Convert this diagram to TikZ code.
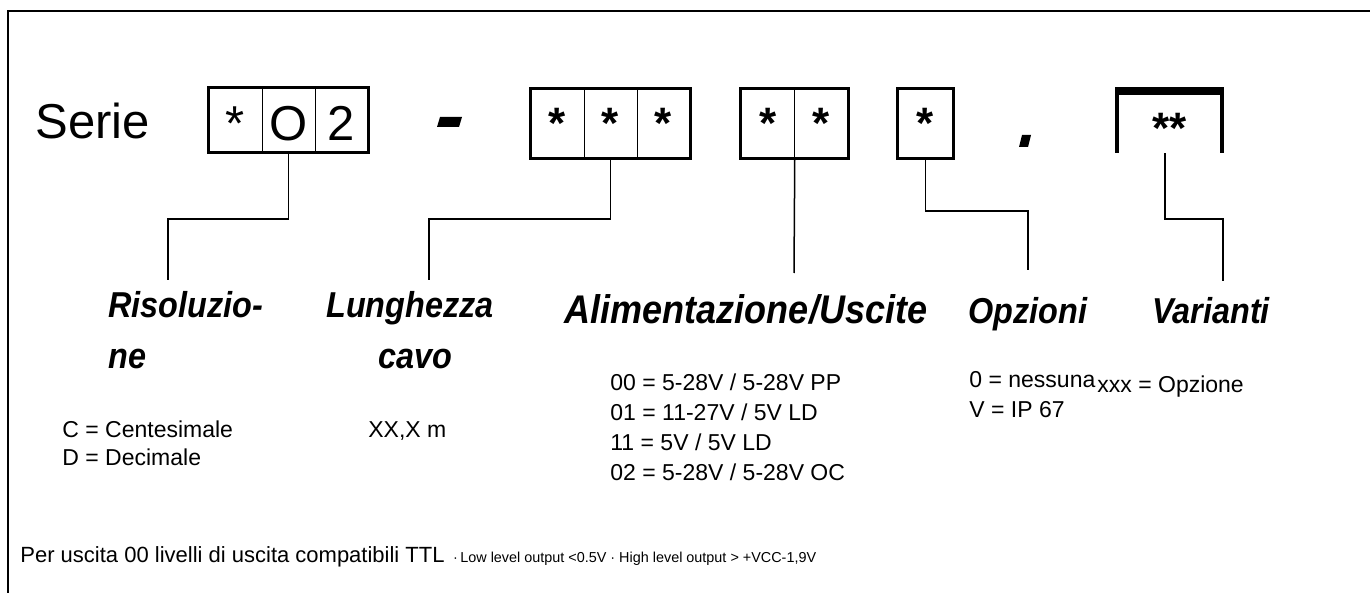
\documentclass[tikz,border=0pt]{standalone}
\usepackage{fontspec}
\setmainfont{Liberation Sans}
\newfontfamily\hdrfont{Liberation Sans}[FakeStretch=0.9]
\usetikzlibrary{calc}
\begin{document}
\begin{tikzpicture}[x=0.5pt,y=-0.5pt,
  cellA/.style={draw, line width=0.5pt, minimum width=26.5pt, minimum height=32pt, inner sep=0pt},
  cellB/.style={draw, line width=0.5pt, minimum width=26.5pt, minimum height=34.5pt, inner sep=0pt},
  outer/.style={draw, line width=1.6pt},
  bigtxt/.style={font=\fontsize{24.5}{29}\selectfont, anchor=base, inner sep=0pt},
  asttxt/.style={font=\fontsize{22}{26}\selectfont\bfseries, anchor=base, inner sep=0pt},
  hdr/.style={font=\hdrfont\fontsize{18}{22}\selectfont\bfseries\itshape, inner sep=0pt},
  body/.style={font=\fontsize{11.5}{14}\selectfont, inner sep=0pt, anchor=base west},
  conn/.style={draw, line width=0.75pt}]
\useasboundingbox (0,0) rectangle (1370,593);
% frame
\draw[line width=1pt] (8,593) -- (8,11) -- (1370,11);
% Serie
\node[bigtxt, anchor=base west] (serie) at (35,139) {Serie};
% box 1
\node[cellA] (c11) at (235.5,120) {};
\node[cellA] (c12) at (288.5,120) {};
\node[cellA] (c13) at (341.5,120) {};
\draw[outer] (c11.north west) rectangle (c13.south east);
\node[bigtxt] at (235.5,141) {*};
\node[bigtxt] at (288.5,141) {O};
\node[bigtxt] at (341.5,141) {2};
% dash
\fill (437,127) -- (440,117) -- (462,117) -- (459,127) -- cycle;
% box 2
\node[cellB] (c21) at (557.5,123.5) {};
\node[cellB] (c22) at (610.5,123.5) {};
\node[cellB] (c23) at (663.5,123.5) {};
\draw[outer] (c21.north west) rectangle (c23.south east);
\node[asttxt] at (557.5,139) {*};
\node[asttxt] at (610.5,139) {*};
\node[asttxt] at (663.5,139) {*};
% box 3
\node[cellB] (c31) at (767.75,123.5) {};
\node[cellB] (c32) at (821.25,123.5) {};
\draw[outer] (c31.north west) rectangle (c32.south east);
\node[asttxt] at (767.75,139) {*};
\node[asttxt] at (821.25,139) {*};
% box 4
\node[cellB, minimum width=27.5pt] (c4) at (925.5,123.5) {};
\draw[outer] (c4.north west) rectangle (c4.south east);
\node[asttxt] at (925.5,139) {*};
% dot
\fill (1019,147) -- (1022,135) -- (1031,135) -- (1028,147) -- cycle;
% box 5 (open)
\node[minimum width=54.5pt, minimum height=33pt, inner sep=0pt] (v5) at (1169.5,120) {};
\fill (1115,87) rectangle (1224,95);
\draw[line width=2pt] (1117,153) -- (1117,93);
\draw[line width=2pt] (1222,153) -- (1222,93);
\node[asttxt] at (1169.5,144) {**};
% labels
\node[hdr, anchor=base west] (r1) at (108,317) {Risoluzio-};
\node[hdr, anchor=base west] (r2) at (108,368) {ne};
\node[hdr, anchor=base] (l1) at (410,317) {Lunghezza};
\node[hdr, anchor=base] (l2) at (415,368) {cavo};
\node[hdr, anchor=base, font=\hdrfont\fontsize{20}{24}\selectfont\bfseries\itshape] (a1) at (746,323) {Alimentazione/Uscite};
\node[hdr, anchor=base] (o1) at (1028,323) {Opzioni};
\node[hdr, anchor=base] (va) at (1211,323) {Varianti};
% value texts
\node[body] (t1) at (62,437) {C = Centesimale};
\node[body] (t2) at (62,465) {D = Decimale};
\node[body] (t3) at (368,437) {XX,X m};
\node[body] (t4) at (610,390) {00 = 5-28V / 5-28V PP};
\node[body] (t5) at (610,420) {01 = 11-27V / 5V LD};
\node[body] (t6) at (610,450) {11 = 5V / 5V LD};
\node[body] (t7) at (610,480) {02 = 5-28V / 5-28V OC};
\node[body] (t8) at (969,387) {0 = nessuna};
\node[body] (t9) at (969,417) {V = IP 67};
\node[body] (t10) at (1097,392) {xxx = Opzione};
\node[font=\fontsize{11}{13}\selectfont, inner sep=0pt, anchor=base west] (note) at (20,562)
  {Per uscita 00 livelli di uscita compatibili TTL {\fontsize{7.2}{9}\selectfont\,·\,Low level output <0.5V · High level output > +VCC-1,9V}};
% connectors
\coordinate (k1) at (168,219); \coordinate (e1) at (168,280);
\coordinate (k2) at (429,219); \coordinate (e2) at (429,280);
\coordinate (e3) at (794,273);
\coordinate (k4) at (1028,211); \coordinate (e4) at (1028,270);
\coordinate (s5) at ($(v5.south)+(-4.5,0)$);
\coordinate (k5) at (1223,219); \coordinate (e5) at (1223,281);
\draw[conn] (c12.south) |- (k1) -- (e1);
\draw[conn] (c22.south) |- (k2) -- (e2);
\draw[conn] (c31.south east) -- (e3);
\draw[conn] (c4.south) |- (k4) -- (e4);
\draw[conn] (s5) |- (k5) -- (e5);
\end{tikzpicture}
\end{document}
